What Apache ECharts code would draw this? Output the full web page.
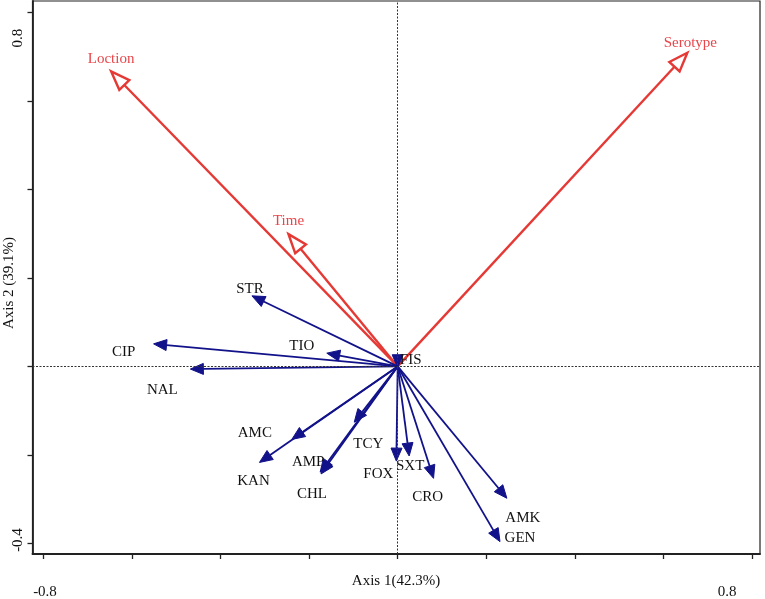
<!DOCTYPE html>
<html><head><meta charset="utf-8">
<script src="https://cdn.jsdelivr.net/npm/echarts@6/dist/echarts.min.js"></script>
<style>html,body{margin:0;padding:0;background:#fff}#c{width:765px;height:599px}</style>
</head><body><div id="c"></div>
<script>
// ---- data ----
const envNames = ['Loction', 'Time', 'Serotype'];
const envX = [-0.647, -0.2465, 0.654];
const envY = [0.667, 0.299, 0.709];
const abNames = ['STR','TIO','CIP','NAL','FIS','AMC','KAN','AMP','CHL','TCY','FOX','SXT','CRO','AMK','GEN'];
const abX = [-0.329, -0.160, -0.551, -0.468, 0.000, -0.239, -0.312, -0.175, -0.173, -0.098, -0.003, 0.026, 0.081, 0.2465, 0.231];
const abY = [0.1595, 0.030, 0.051, -0.006, -0.003, -0.165, -0.217, -0.239, -0.243, -0.126, -0.214, -0.2025, -0.253, -0.298, -0.396];
const xTicks = [-0.8, -0.6, -0.4, -0.2, 0, 0.2, 0.4, 0.6, 0.8];
const yTicks = [-0.4, -0.2, 0, 0.2, 0.4, 0.6, 0.8];
const xTickLabels = ['-0.8', '0.8'];
const yTickLabels = ['0.8', '-0.4'];
const xTitle = 'Axis 1(42.3%)';
const yTitle = 'Axis 2 (39.1%)';

// ---- label placement (px offsets from arrow tip) ----
const labelOffsets = {
  Loction: [0, -12], Time: [0, -13], Serotype: [3, -10],
  STR: [-2, -7], TIO: [-25, -7], CIP: [-30, 8], NAL: [-28, 21], FIS: [13, -8],
  AMC: [-37, -6], KAN: [-6, 19], AMP: [-12, -10], CHL: [-9, 20], TCY: [14, 22],
  FOX: [-18, 13], SXT: [1, 10], CRO: [-6, 19], AMK: [16, 20], GEN: [20, -4]
};
const RED = '#e53935', RED_TXT = '#e8464a', BLUE = '#12128a', FONT = 'Liberation Serif';

function arrowRenderer(names, opts) {
  return function (params, api) {
    const x = api.value(0), y = api.value(1);
    const name = names[params.dataIndex];
    const o = api.coord([0, 0]);
    const t = api.coord([x, y]);
    let dx = t[0] - o[0], dy = t[1] - o[1];
    let len = Math.sqrt(dx * dx + dy * dy);
    let ux, uy;
    if (len < 0.5) { ux = 0; uy = 1; } else { ux = dx / len; uy = dy / len; }
    const nx = -uy, ny = ux;
    const bx = t[0] - ux * opts.hl, by = t[1] - uy * opts.hl;
    const children = [];
    if (len > opts.hl) {
      children.push({
        type: 'line',
        shape: { x1: o[0], y1: o[1], x2: bx, y2: by },
        style: { stroke: opts.color, lineWidth: opts.lw }
      });
    }
    children.push({
      type: 'polygon',
      shape: { points: [[t[0], t[1]], [bx + nx * opts.hw, by + ny * opts.hw], [bx - nx * opts.hw, by - ny * opts.hw]] },
      style: opts.open ? { fill: '#fff', stroke: opts.color, lineWidth: opts.lw } : { fill: opts.color, stroke: opts.color, lineWidth: 1 }
    });
    const off = labelOffsets[name] || [0, 0];
    children.push({
      type: 'text',
      x: t[0] + off[0], y: t[1] + off[1],
      style: { text: name, fill: opts.txt, font: '15px "' + FONT + '"', align: 'center', verticalAlign: 'middle' }
    });
    return { type: 'group', children: children };
  };
}

const chart = echarts.init(document.getElementById('c'), null, { renderer: 'canvas' });
chart.setOption({
  backgroundColor: '#fff',
  animation: false,
  grid: { left: 32.5, right: 5, top: 1, bottom: 45, show: true, borderColor: '#222', borderWidth: 1.2, backgroundColor: 'transparent' },
  xAxis: {
    type: 'value', min: -0.8244, max: 0.818,
    axisLine: { show: true, onZero: false, lineStyle: { color: '#222', width: 1.8 } },
    axisTick: { show: true, customValues: xTicks, length: 5, lineStyle: { color: '#222', width: 1.3 } },
    axisLabel: { show: false }, splitLine: { show: false }
  },
  yAxis: {
    type: 'value', min: -0.424, max: 0.826,
    axisLine: { show: true, onZero: false, lineStyle: { color: '#222', width: 1.8 } },
    axisTick: { show: true, customValues: yTicks, length: 5, lineStyle: { color: '#222', width: 1.3 } },
    axisLabel: { show: false }, splitLine: { show: false }
  },
  graphic: [
    { type: 'text', x: 45, y: 592, style: { text: xTickLabels[0], font: '15px "' + FONT + '"', fill: '#111', align: 'center', verticalAlign: 'middle' } },
    { type: 'text', x: 727, y: 592, style: { text: xTickLabels[1], font: '15px "' + FONT + '"', fill: '#111', align: 'center', verticalAlign: 'middle' } },
    { type: 'text', x: 18, y: 38, rotation: Math.PI / 2, style: { text: yTickLabels[0], font: '15px "' + FONT + '"', fill: '#111', align: 'center', verticalAlign: 'middle' } },
    { type: 'text', x: 18, y: 540, rotation: Math.PI / 2, style: { text: yTickLabels[1], font: '15px "' + FONT + '"', fill: '#111', align: 'center', verticalAlign: 'middle' } },
    { type: 'text', x: 396, y: 581, style: { text: xTitle, font: '15px "' + FONT + '"', fill: '#111', align: 'center', verticalAlign: 'middle' } },
    { type: 'text', x: 9, y: 283, rotation: Math.PI / 2, style: { text: yTitle, font: '15px "' + FONT + '"', fill: '#111', align: 'center', verticalAlign: 'middle' } }
  ],
  series: [
    {
      type: 'custom', coordinateSystem: 'cartesian2d', clip: false, z: 3,
      data: abX.map((v, i) => [v, abY[i]]),
      renderItem: arrowRenderer(abNames, { color: BLUE, txt: '#111', lw: 1.8, hl: 13, hw: 5.5, open: false }),
      markLine: {
        silent: true, symbol: 'none', label: { show: false }, animation: false,
        lineStyle: { color: '#333', type: [2, 1.5], width: 1 },
        data: [{ xAxis: 0 }, { yAxis: 0 }]
      }
    },
    {
      type: 'custom', coordinateSystem: 'cartesian2d', clip: false, z: 2,
      data: envX.map((v, i) => [v, envY[i]]),
      renderItem: arrowRenderer(envNames, { color: RED, txt: RED_TXT, lw: 2.4, hl: 19, hw: 7, open: true })
    }
  ]
});
</script></body></html>
